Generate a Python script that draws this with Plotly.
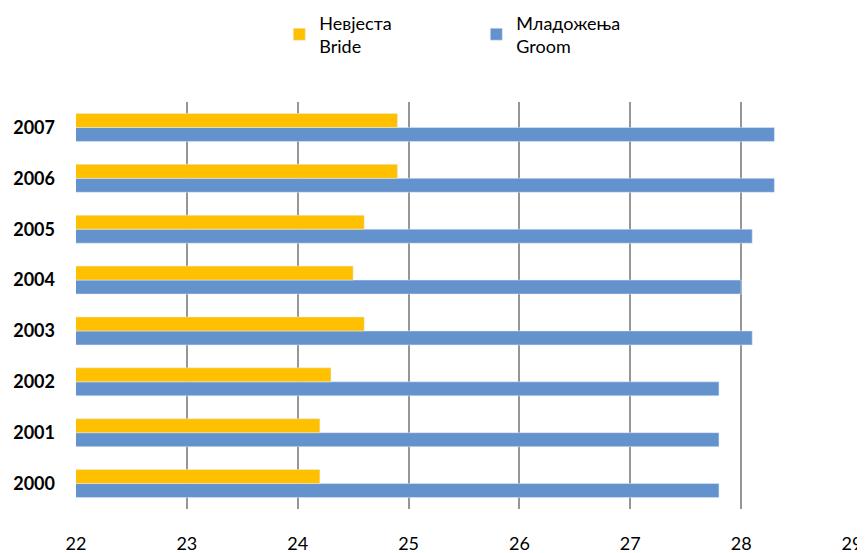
import plotly.graph_objects as go

years = ['2000', '2001', '2002', '2003', '2004', '2005', '2006', '2007']
bride = [24.2, 24.2, 24.3, 24.6, 24.5, 24.6, 24.9, 24.9]
groom = [27.8, 27.8, 27.8, 28.1, 28.0, 28.1, 28.3, 28.3]
xticks = [22, 23, 24, 25, 26, 27, 28, 29]

FONT = 'Lato, Open Sans, sans-serif'

fig = go.Figure()
# groom first so it sits below bride within each year group
fig.add_trace(go.Bar(y=years, x=groom, orientation='h', name='Младожења<br>Groom',
                     marker=dict(color='#6492CD'), legendrank=2))
fig.add_trace(go.Bar(y=years, x=bride, orientation='h', name='Невјеста<br>Bride',
                     marker=dict(color='#FFC000'), legendrank=1))

# page body adds 8px margin, so figure is a bit smaller than the window
fig.update_layout(
    width=857, height=545,
    barmode='group', bargap=0.45, bargroupgap=0,
    plot_bgcolor='white', paper_bgcolor='white',
    margin=dict(l=68, r=13, t=94, b=44, autoexpand=False),
    font=dict(family=FONT, size=18, color='black'),
    legend=dict(orientation='h', x=0.262, xanchor='left', y=1.24, yanchor='top',
                entrywidth=152, entrywidthmode='pixels', traceorder='normal',
                font=dict(size=18), itemclick=False, tracegroupgap=0),
    showlegend=True,
)
fig.update_xaxes(range=[22, 29], tickvals=xticks, showgrid=True, gridcolor='#969696',
                 gridwidth=1.5, zeroline=False, showline=False, ticks='',
                 ticklabelstandoff=22, automargin=False)
fig.update_yaxes(categoryorder='array', categoryarray=years, showgrid=False,
                 showline=False, ticks='', ticklabelstandoff=20, automargin=False,
                 tickfont=dict(size=18, family=FONT, weight='bold'))

fig.write_html("out.html")
